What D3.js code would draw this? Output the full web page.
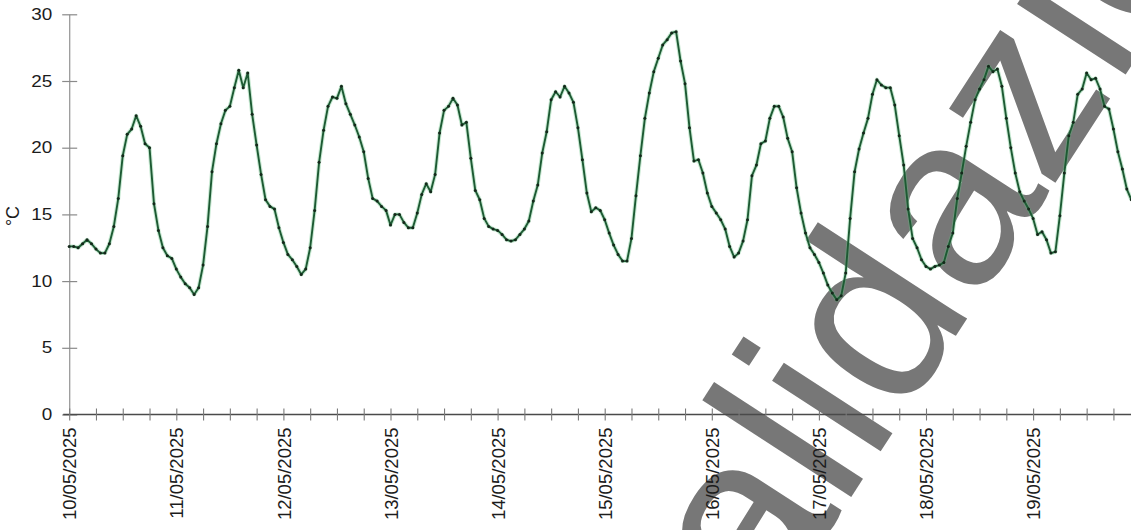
<!DOCTYPE html>
<html><head><meta charset="utf-8">
<script src="https://cdn.jsdelivr.net/npm/d3@7"></script>
<style>
html,body{margin:0;padding:0;background:#fff;overflow:hidden}
svg{display:block;font-family:"Liberation Sans",Arial,sans-serif}
</style></head><body>
<svg id="chart" width="1131" height="530"></svg>
<script>
// Day labels along the time axis (one per day, hourly samples in between)
const dayLabels = ["10/05/2025","11/05/2025","12/05/2025","13/05/2025","14/05/2025",
                   "15/05/2025","16/05/2025","17/05/2025","18/05/2025","19/05/2025"];
const yTickValues = [0, 5, 10, 15, 20, 25, 30];
const unitLabel = "°C";
const watermarkText = "convalidazione";

// Hourly air temperature (°C) starting 10/05/2025 00:00
const temperature = [
  12.6,12.6,12.5,12.8,13.1,12.8,12.4,12.1,12.1,12.8,14.1,16.2,19.4,21.0,21.4,22.4,21.6,20.3,20.0,15.8,13.8,12.5,11.9,11.7,
  10.9,10.3,9.8,9.5,9.0,9.5,11.2,14.1,18.2,20.3,21.8,22.8,23.1,24.5,25.8,24.5,25.6,22.5,20.2,18.0,16.1,15.6,15.4,14.0,
  12.9,12.0,11.6,11.1,10.5,10.9,12.5,15.3,18.9,21.3,23.1,23.8,23.7,24.6,23.3,22.5,21.7,20.8,19.7,17.7,16.2,16.0,15.6,15.3,
  14.2,15.0,15.0,14.4,14.0,14.0,15.1,16.5,17.3,16.7,18.0,21.1,22.8,23.1,23.7,23.2,21.7,21.9,19.2,16.8,16.1,14.7,14.1,13.9,
  13.8,13.5,13.1,13.0,13.1,13.5,13.9,14.5,16.0,17.2,19.6,21.2,23.6,24.2,23.8,24.6,24.1,23.4,21.5,19.1,16.6,15.2,15.5,15.3,
  14.6,13.6,12.7,12.0,11.5,11.5,13.2,16.4,19.4,22.2,24.1,25.7,26.7,27.7,28.1,28.6,28.7,26.5,24.8,21.5,19.0,19.1,18.1,16.6,
  15.6,15.1,14.6,13.9,12.6,11.8,12.1,13.0,14.6,17.9,18.7,20.3,20.5,22.2,23.1,23.1,22.3,20.7,19.7,17.0,15.1,13.6,12.5,12.0,
  11.4,10.6,9.7,9.1,8.6,8.9,10.6,14.7,18.2,19.9,21.1,22.2,24.0,25.1,24.7,24.5,24.5,23.2,20.9,18.7,15.4,13.2,12.5,11.6,
  11.1,10.9,11.1,11.2,11.4,12.6,13.6,16.2,18.1,20.1,21.9,23.6,24.4,25.1,26.1,25.7,25.9,24.6,22.2,20.0,18.1,16.7,16.0,15.4,
  14.7,13.5,13.7,13.1,12.1,12.2,14.9,18.1,20.9,21.9,24.0,24.4,25.6,25.1,25.2,24.4,23.1,22.9,21.4,19.7,18.4,16.9,16.1
];

const W = 1131, H = 530;
const svg = d3.select("#chart");

// hours since 10/05 00:00 -> px
const x = d3.scaleLinear().domain([0, 24]).range([69.2, 69.2 + 107.1]);
const y = d3.scaleLinear().domain([0, 30]).range([414.5, 14.3]);

// large diagonal stamp behind the plot
const wm = svg.append("g").attr("transform", "translate(768,625) rotate(-57)");
const wt = wm.append("text")
  .attr("font-size", 245)
  .attr("fill", "#777777")
  .text(watermarkText);
wt.attr("x", -wt.node().getSubStringLength(0, 4));

// y axis
const yAxis = svg.append("g")
  .attr("transform", `translate(${x(0)},0)`)
  .call(d3.axisLeft(y).tickValues(yTickValues).tickSize(7).tickSizeOuter(0).tickPadding(10));
yAxis.select(".domain").attr("stroke", "#9a9a9a").attr("stroke-width", 1.3);
yAxis.selectAll(".tick line").attr("x1", 8).attr("stroke", "#8a8a8a").attr("stroke-width", 1.2);
yAxis.selectAll(".tick text")
  .attr("font-size", 16)
  .attr("fill", "#1c1c1c")
  .attr("x", -17 / 1.18)
  .attr("transform", "scale(1.18,1)");

// x axis: ticks every 6 hours, date label each midnight
const hourTicks = d3.range(0, 24 * dayLabels.length, 6).filter(h => x(h) <= W);
svg.append("line")
  .attr("x1", x(0) - 6).attr("x2", W)
  .attr("y1", y(0)).attr("y2", y(0))
  .attr("stroke", "#4a4a4a").attr("stroke-width", 1.5);
const xAxis = svg.append("g")
  .attr("transform", `translate(0,${y(0)})`)
  .call(d3.axisBottom(x).tickValues(hourTicks).tickSize(6).tickSizeOuter(0)
    .tickFormat(h => h % 24 === 0 ? dayLabels[h / 24] : ""));
xAxis.select(".domain").remove();
xAxis.selectAll(".tick line").attr("y1", -6).attr("stroke", "#7a7a7a").attr("stroke-width", 1.1);
xAxis.selectAll(".tick text")
  .attr("font-size", 18.5)
  .attr("fill", "#1c1c1c")
  .attr("text-anchor", "end")
  .attr("transform", "rotate(-90)")
  .attr("x", -13)
  .attr("y", 0)
  .attr("dy", "0.36em");

// unit label
svg.append("text")
  .attr("transform", "translate(19,216) rotate(-90)")
  .attr("text-anchor", "middle")
  .attr("font-size", 18)
  .attr("fill", "#1c1c1c")
  .text(unitLabel);

// temperature series
const line = d3.line().x((d, i) => x(i)).y(d => y(d));
svg.append("path")
  .datum(temperature)
  .attr("fill", "none")
  .attr("stroke", "#5fbf7f")
  .attr("stroke-opacity", 0.35)
  .attr("stroke-width", 4)
  .attr("stroke-linejoin", "round")
  .attr("d", line);
svg.append("path")
  .datum(temperature)
  .attr("fill", "none")
  .attr("stroke", "#1d5a33")
  .attr("stroke-width", 1.9)
  .attr("stroke-linejoin", "round")
  .attr("d", line);
svg.append("g")
  .selectAll("circle")
  .data(temperature)
  .join("circle")
  .attr("cx", (d, i) => x(i))
  .attr("cy", d => y(d))
  .attr("r", 1.5)
  .attr("fill", "#15281b");
</script>
</body></html>
